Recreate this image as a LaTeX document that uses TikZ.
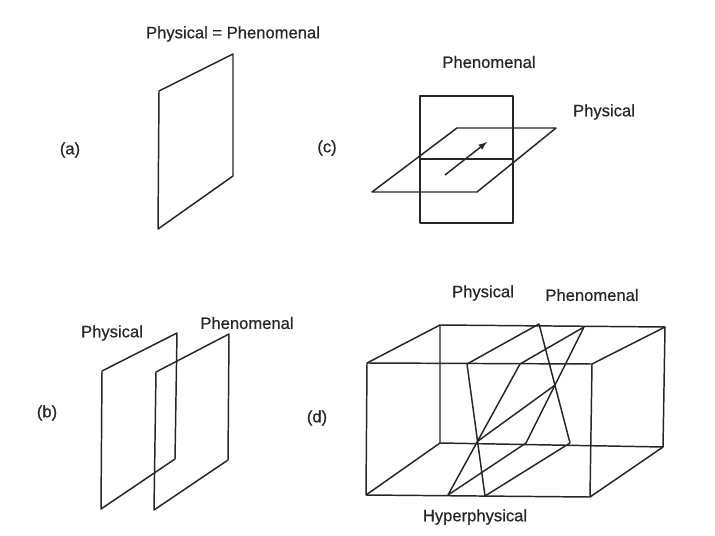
\documentclass[tikz,border=0pt]{standalone}
\usepackage{fontspec}
\setmainfont{Liberation Sans}[FakeBold=0.6]
\usetikzlibrary{arrows}

\tikzset{
plane/.style={line width=1.05pt, draw=black!85, line join=round},
lbl/.style={font=\fontsize{11.8}{13}\selectfont, text=black!85, inner sep=0pt},
}

\begin{document}
\begin{tikzpicture}[x=0.025cm, y=-0.025cm]
\useasboundingbox (0,0) rectangle (715,536);

%%%%%%%%%% (a) one plane
\node[lbl] (titleA) at (233,34) {Physical = Phenomenal};
\node[lbl] (tagA) at (70,150) {(a)};
\draw[plane] (159,91) -- (233,54) -- (233,176) -- (158,229) -- cycle;

%%%%%%%%%% (c) crossing planes
\node[lbl] (tagC) at (327,148) {(c)};
\node[lbl] (phenC) at (489,62) {Phenomenal};
\node[lbl] (physC) at (604,112) {Physical};
\draw[plane] (420,96) rectangle (513,223);
\draw[plane] (457,128) -- (556,128) -- (477,192) -- (372,192) -- cycle;
\draw[plane] (420,159) -- (513,159);
\draw[plane, -latex] (445,175) -- (487,142);

%%%%%%%%%% (b) two planes side by side
\node[lbl] (tagB) at (47,413) {(b)};
\node[lbl] (physB) at (112,333) {Physical};
\node[lbl] (phenB) at (247,323) {Phenomenal};
\draw[plane] (102,371) -- (177,333) -- (175,459) -- (101,509) -- cycle;
\draw[plane] (156,372) -- (229,334) -- (228,460) -- (154,510) -- cycle;

%%%%%%%%%% (d) planes inside the box
\node[lbl] (tagD) at (317,418) {(d)};
\node[lbl] (physD) at (483,293) {Physical};
\node[lbl] (phenD) at (592,295) {Phenomenal};
\node[lbl] (hypD) at (475,517) {Hyperphysical};

\coordinate (ftl) at (367,363);
\coordinate (ftr) at (592,364);
\coordinate (fbr) at (590,497);
\coordinate (fbl) at (366,495);
\coordinate (btl) at (440,325);
\coordinate (btr) at (665,327);
\coordinate (bbr) at (663,447);
\coordinate (bbl) at (440,443);

\draw[plane] (ftl) -- (ftr) -- (fbr) -- (fbl) -- cycle;
\draw[plane] (btl) -- (btr) -- (bbr) -- (bbl) -- cycle;
\foreach \f/\b in {ftl/btl, ftr/btr, fbr/bbr, fbl/bbl}
  \draw[plane] (\f) -- (\b);

\coordinate (phyA) at (467,364);
\coordinate (phyB) at (539,324);
\coordinate (phyC) at (570,443);
\coordinate (phyD) at (485,496);
\coordinate (phnA) at (520,364);
\coordinate (phnB) at (584,327);
\coordinate (phnC) at (526,443);
\coordinate (phnD) at (448,495);

\draw[plane] (phyA) -- (phyB) -- (phyC) -- (phyD) -- cycle;
\draw[plane] (phnA) -- (phnB) -- (phnC) -- (phnD) -- cycle;
\draw[plane] (intersection of phyA--phyD and phnA--phnD)
  -- (intersection of phyB--phyC and phnB--phnC);

\end{tikzpicture}
\end{document}
